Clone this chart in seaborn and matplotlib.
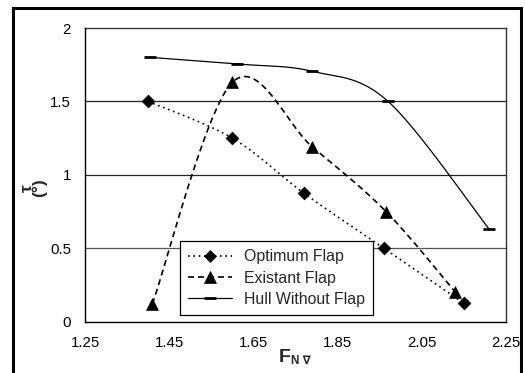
import numpy as np
import pandas as pd
import matplotlib
matplotlib.use("Agg")
import matplotlib.pyplot as plt
from matplotlib.lines import Line2D
from matplotlib.patches import Rectangle
import seaborn as sns

# ---- data ----
fn_opt = [1.40, 1.60, 1.77, 1.96, 2.15]
tau_opt = [1.50, 1.25, 0.875, 0.50, 0.125]

fn_exi = [1.41, 1.60, 1.79, 1.965, 2.13]
tau_exi = [0.12, 1.63, 1.19, 0.75, 0.20]

fn_hull = [1.405, 1.61, 1.79, 1.97, 2.21]
tau_hull = [1.80, 1.755, 1.705, 1.50, 0.63]

labels = ["Optimum Flap", "Existant Flap", "Hull Without Flap"]
xticks = [1.25, 1.45, 1.65, 1.85, 2.05, 2.25]
yticks = [0, 0.5, 1, 1.5, 2]


def smooth(xs, ys, n=40):
    """Excel-like smoothed line (Catmull-Rom Bezier) through the data."""
    p = np.column_stack([xs, ys]).astype(float)
    out = []
    m = len(p)
    t = np.linspace(0, 1, n)[:, None]
    for i in range(m - 1):
        p0 = p[max(i - 1, 0)]
        p1 = p[i]
        p2 = p[i + 1]
        p3 = p[min(i + 2, m - 1)]
        c1 = p1 + (p2 - p0) / 6.0
        c2 = p2 - (p3 - p1) / 6.0
        seg = ((1 - t) ** 3) * p1 + 3 * ((1 - t) ** 2) * t * c1 + 3 * (1 - t) * t ** 2 * c2 + t ** 3 * p2
        out.append(seg if i == 0 else seg[1:])
    s = np.vstack(out)
    return s[:, 0], s[:, 1]


sns.set_style("white")
plt.rcParams["font.family"] = ["Liberation Sans", "DejaVu Sans"]

fig = plt.figure(figsize=(5.25, 3.73), dpi=100)
ax = fig.add_axes([85 / 525, 1 - 321.7 / 373, 421 / 525, 293.7 / 373])

styles = [
    dict(ls=(0, (1, 2.2)), lw=1.2, marker="D", ms=6.5),
    dict(ls=(0, (3.6, 2.4)), lw=1.2, marker="^", ms=8.5),
    dict(ls="-", lw=0.9, marker="_", ms=9, mew=2.0),
]
series = [(fn_opt, tau_opt), (fn_exi, tau_exi), (fn_hull, tau_hull)]

# horizontal gridlines
for yv in [0.5, 1.0, 1.5]:
    ax.axhline(yv, color="#222222" if yv != 0.5 else "#555555", lw=0.9, zorder=1)

handles = []
for (xs, ys), st, lab in zip(series, styles, labels):
    sx, sy = smooth(xs, ys)
    sdf = pd.DataFrame({"x": sx, "y": sy})
    sns.lineplot(data=sdf, x="x", y="y", sort=False, ax=ax, color="black",
                 lw=st["lw"], linestyle=st["ls"], zorder=3, legend=False)
    ddf = pd.DataFrame({"x": xs, "y": ys})
    sns.scatterplot(data=ddf, x="x", y="y", ax=ax, marker=st["marker"],
                    s=st["ms"] ** 2, color="black", edgecolor="black",
                    linewidth=st.get("mew", 0.5), zorder=4, legend=False)
    handles.append(Line2D([0], [0], color="black", lw=st["lw"], linestyle=st["ls"],
                          marker=st["marker"], markersize=st["ms"],
                          markeredgewidth=st.get("mew", 0.5),
                          markerfacecolor="black", markeredgecolor="black"))

ax.set_xlim(1.25, 2.25)
ax.set_ylim(0, 2)
ax.set_xticks(xticks)
ax.set_xticklabels([f"{v:.2f}" for v in xticks])
ax.set_yticks(yticks)
ax.set_yticklabels(["0", "0.5", "1", "1.5", "2"])
ax.tick_params(axis="both", which="major", direction="out", length=4, width=0.9,
               color="black", labelsize=10.8, labelcolor="black")
ax.tick_params(axis="y", pad=6)
ax.tick_params(axis="x", pad=6.5)

for side in ["left", "bottom"]:
    ax.spines[side].set_color("black")
    ax.spines[side].set_linewidth(1.0)
for side in ["top", "right"]:
    ax.spines[side].set_color("#333333")
    ax.spines[side].set_linewidth(1.0)
ax.spines["left"].set_zorder(5)
ax.spines["bottom"].set_zorder(5)

ax.set_xlabel("")
ax.set_ylabel("τ\n(°)", fontsize=12.5, fontweight="bold", linespacing=0.75)
ax.yaxis.set_label_coords(-0.09, 0.455)

# x label F with subscript N ∇
fig.text(279 / 525, 1 - 362 / 373, "F", fontsize=14, fontweight="bold", ha="left", va="baseline")
fig.text(291 / 525, 1 - 363.5 / 373, "N ∇", fontsize=8.5, fontweight="bold", ha="left", va="baseline")

leg = ax.legend(handles, labels, loc="lower left", bbox_to_anchor=(0.226, 0.023),
                borderaxespad=0, frameon=True, fancybox=False, fontsize=11.4,
                handlelength=2.8, handletextpad=0.75, labelspacing=0.4,
                borderpad=0.5, edgecolor="black", framealpha=1)
leg.get_frame().set_linewidth(0.9)
leg.set_zorder(6)

# outer chart border
fig.patches.append(Rectangle((12.5 / 525, -0.1), (521 - 12.5) / 525, 1.1 - 8.5 / 373,
                             transform=fig.transFigure, fill=False, edgecolor="black",
                             linewidth=2.2, zorder=10))

fig.savefig("out.png", dpi=100)
